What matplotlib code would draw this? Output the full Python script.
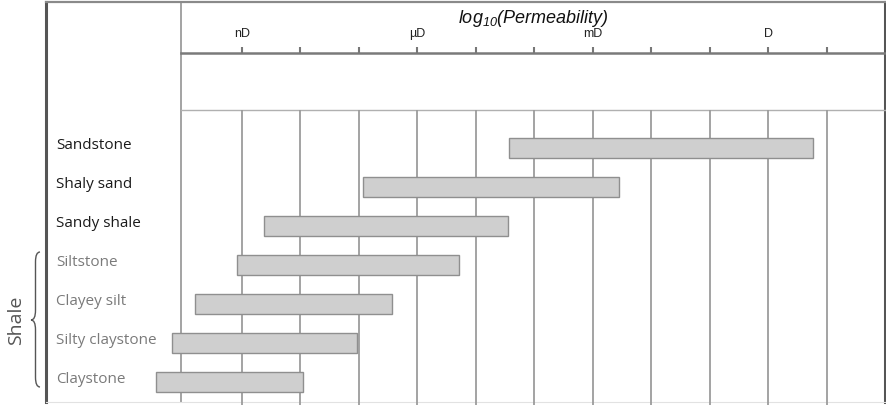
import matplotlib
matplotlib.use("Agg")
import matplotlib.pyplot as plt
from matplotlib.path import Path
from matplotlib.patches import PathPatch
from matplotlib.transforms import blended_transform_factory

# rock types, top to bottom, and their permeability range (log10 Darcy)
rocks = ['Sandstone', 'Shaly sand', 'Sandy shale', 'Siltstone',
         'Clayey silt', 'Silty claystone', 'Claystone']
perm_low = [-4.44, -6.93, -8.62, -9.09, -9.80, -10.20, -10.47]
perm_high = [0.76, -2.56, -4.45, -5.29, -6.44, -7.03, -7.96]
is_shale = [False, False, False, True, True, True, True]

decades = list(range(-9, 2))
unit_names = {-9: 'nD', -6: 'µD', -3: 'mD', 0: 'D'}

plt.rcParams['mathtext.fontset'] = 'custom'
plt.rcParams['mathtext.it'] = 'Liberation Sans:italic'
plt.rcParams['mathtext.rm'] = 'Liberation Sans:italic'

W, H = 887, 405
def box(x0, y0, x1, y1):
    return [x0 / W, 1 - y1 / H, (x1 - x0) / W, (y1 - y0) / H]

px_per_dec = 58.5
xmin = -9 - (242 - 181) / px_per_dec
xmax = -9 + (885 - 242) / px_per_dec
frame_left = xmin - (181 - 46) / px_per_dec

grid_col = '#9c9c9c'

fig = plt.figure(figsize=(W / 100, H / 100), dpi=100)

# outer frame + separator of the label column
fr = fig.add_axes(box(46, 2, 885, 402))
fr.set_xlim(frame_left, xmax)
fr.set_ylim(0, 1)
fr.set_xticks([])
fr.set_yticks([])
fr.spines['left'].set(color='#555555', linewidth=2.2)
fr.spines['right'].set(color='#555555', linewidth=2.2)
fr.spines['top'].set(color='#8a8a8a', linewidth=1.6)
fr.spines['bottom'].set(color='#e2e2e2', linewidth=0.8)
fr.axvline(xmin, color=grid_col, linewidth=1.3)

# header with the log scale
hd = fig.add_axes(box(181, 53, 885, 110))
hd.set_facecolor('none')
hd.set_xlim(xmin, xmax)
hd.set_yticks([])
hd.xaxis.tick_top()
hd.set_xticks(decades)
hd.set_xticklabels([unit_names.get(d, '') for d in decades],
                   fontsize=9, family='Liberation Sans', color='#222222')
hd.tick_params(axis='x', direction='out', length=4.5, width=1.5,
               color='#777777', pad=5)
hd.xaxis.set_label_position('top')
hd.set_xlabel(r'log$_{10}$(Permeability)', fontsize=13, style='italic',
              family='Liberation Sans', color='#111111', labelpad=3.5)
hd.spines['top'].set(color='#7a7a7a', linewidth=1.8)
hd.spines['bottom'].set(color='#b0b0b0', linewidth=1.0)
hd.spines['left'].set_visible(False)
hd.spines['right'].set_visible(False)

# body with the bars
ax = fig.add_axes(box(181, 110, 885, 405))
ax.set_facecolor('none')
ax.set_xlim(xmin, xmax)
pitch = (382 - 148) / (len(rocks) - 1)
ax.set_ylim(len(rocks) - 1 + (405 - 382) / pitch, -(148 - 110) / pitch)
ax.set_xticks(decades)
ax.set_yticks([])
ax.tick_params(axis='x', length=0, labelbottom=False)
ax.grid(axis='x', color=grid_col, linewidth=1.3)
ax.set_axisbelow(True)
for s in ax.spines.values():
    s.set_visible(False)

rows = list(range(len(rocks)))
widths = [h - l for l, h in zip(perm_low, perm_high)]
ax.barh(rows, widths, left=perm_low, height=0.5, color='#cfcfcf',
        edgecolor='#8f8f8f', linewidth=1.0, clip_on=False, zorder=3)

lab_tr = blended_transform_factory(fig.transFigure, ax.transData)
for r, name, sh in zip(rows, rocks, is_shale):
    ax.text(56 / W, r - 0.06, name, transform=lab_tr, ha='left', va='center',
            fontsize=11, family='Open Sans',
            color='#7a7a7a' if sh else '#1a1a1a')

# brace grouping the shale rows
yt = (252 - 148) / pitch
yb = (387 - 148) / pitch
ym = (320 - 148) / pitch
xt, xs, xp = 40 / W, 35.5 / W, 31 / W
verts = [(xt, yt), (xs, yt), (xs, yt + 0.25), (xs, ym - 0.25),
         (xs, ym), (xp, ym), (xs, ym), (xs, ym + 0.25),
         (xs, yb - 0.25), (xs, yb), (xt, yb)]
codes = [Path.MOVETO, Path.CURVE3, Path.CURVE3, Path.LINETO,
         Path.CURVE3, Path.CURVE3, Path.CURVE3, Path.CURVE3,
         Path.LINETO, Path.CURVE3, Path.CURVE3]
ax.add_patch(PathPatch(Path(verts, codes), transform=lab_tr, fill=False,
                       edgecolor='#555555', linewidth=1.0, clip_on=False))
ax.text(16 / W, ym, 'Shale', transform=lab_tr, rotation=90, ha='center',
        va='center', fontsize=14, family='Open Sans', color='#555555')

fig.savefig('out.png', dpi=100)
